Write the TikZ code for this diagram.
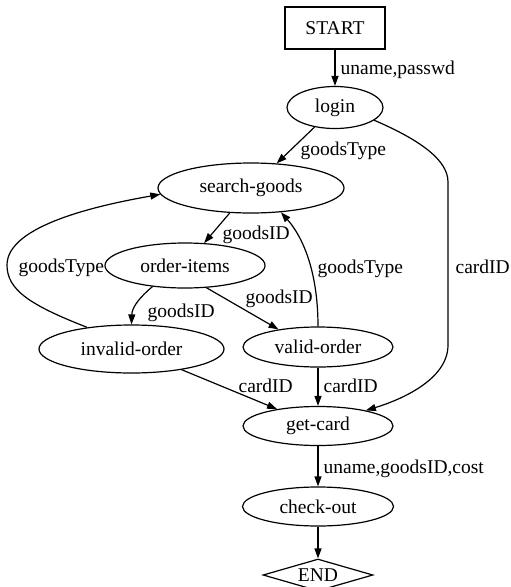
\documentclass[tikz,border=0pt]{standalone}
\usepackage{fontspec}
\setmainfont{Liberation Serif}
\usetikzlibrary{shapes.geometric,arrows.meta}
\begin{document}
\begin{tikzpicture}[x=1pt,y=-1pt,
  every node/.style={font=\fontsize{19.5}{23}\selectfont},
  state/.style={draw,ellipse,line width=1.2pt,inner sep=0pt},
  boxnode/.style={draw,rectangle,line width=1.2pt,inner sep=0pt,minimum width=100pt,minimum height=42pt},
  endnode/.style={draw,diamond,aspect=3.4,line width=1.2pt,inner sep=0pt,minimum width=110pt,minimum height=32pt},
  arr/.style={line width=1.2pt,-{Triangle[length=10pt,width=7pt]}},
  lbl/.style={anchor=base west,inner sep=0pt}]
\useasboundingbox (0,0) rectangle (511,587);
\node[boxnode] (start) at (335,28) {START};
\node[state,minimum width=96pt,minimum height=42pt] (login) at (335,107.5) {login};
\node[state,minimum width=186pt,minimum height=50pt] (search) at (251,188) {search-goods};
\node[state,minimum width=160pt,minimum height=45pt] (order) at (185,265.5) {order-items};
\node[state,minimum width=185pt,minimum height=48pt] (invalid) at (131.5,349) {invalid-order};
\node[state,minimum width=150pt,minimum height=40pt] (valid) at (318,347) {valid-order};
\node[state,minimum width=150pt,minimum height=39pt] (getcard) at (318,426) {get-card};
\node[state,minimum width=151pt,minimum height=39pt] (checkout) at (318,506.5) {check-out};
\node[endnode] (end) at (318,575) {END};

\draw[arr] (start) -- (login) node[lbl] at (340,74) {uname,passwd};
\draw[arr] (login) -- (search) node[lbl] at (300,155) {goodsType};
\draw[arr] (login.-18) .. controls (420,140) and (448,160) .. (448,182)
  -- (448,345) .. controls (448,380) and (400,400) .. (getcard.18)
  node[lbl] at (455,273) {cardID};
\draw[arr] (search) -- (order) node[lbl] at (222,239) {goodsID};
\draw[arr] (order.213) .. controls (140,297) and (132,307) .. (invalid.north)
  node[lbl] at (147,317) {goodsID};
\draw[arr] (order.-46) -- (valid.156) node[lbl] at (245,303) {goodsID};
\draw[arr] (valid.north) .. controls (318,270) and (302,236) .. (search.-39)
  node[lbl] at (317,273) {goodsType};
\draw[arr] (invalid.154) .. controls (30,305) and (7,290) .. (7,265)
  .. controls (7,225) and (100,205) .. (search.184)
  node[lbl] at (18,272) {goodsType};
\draw[arr] (invalid) -- (getcard) node[lbl] at (238,392) {cardID};
\draw[arr] (valid) -- (getcard) node[lbl] at (323,392) {cardID};
\draw[arr] (getcard) -- (checkout) node[lbl] at (323,473) {uname,goodsID,cost};
\draw[arr] (checkout) -- (end);
\end{tikzpicture}
\end{document}
